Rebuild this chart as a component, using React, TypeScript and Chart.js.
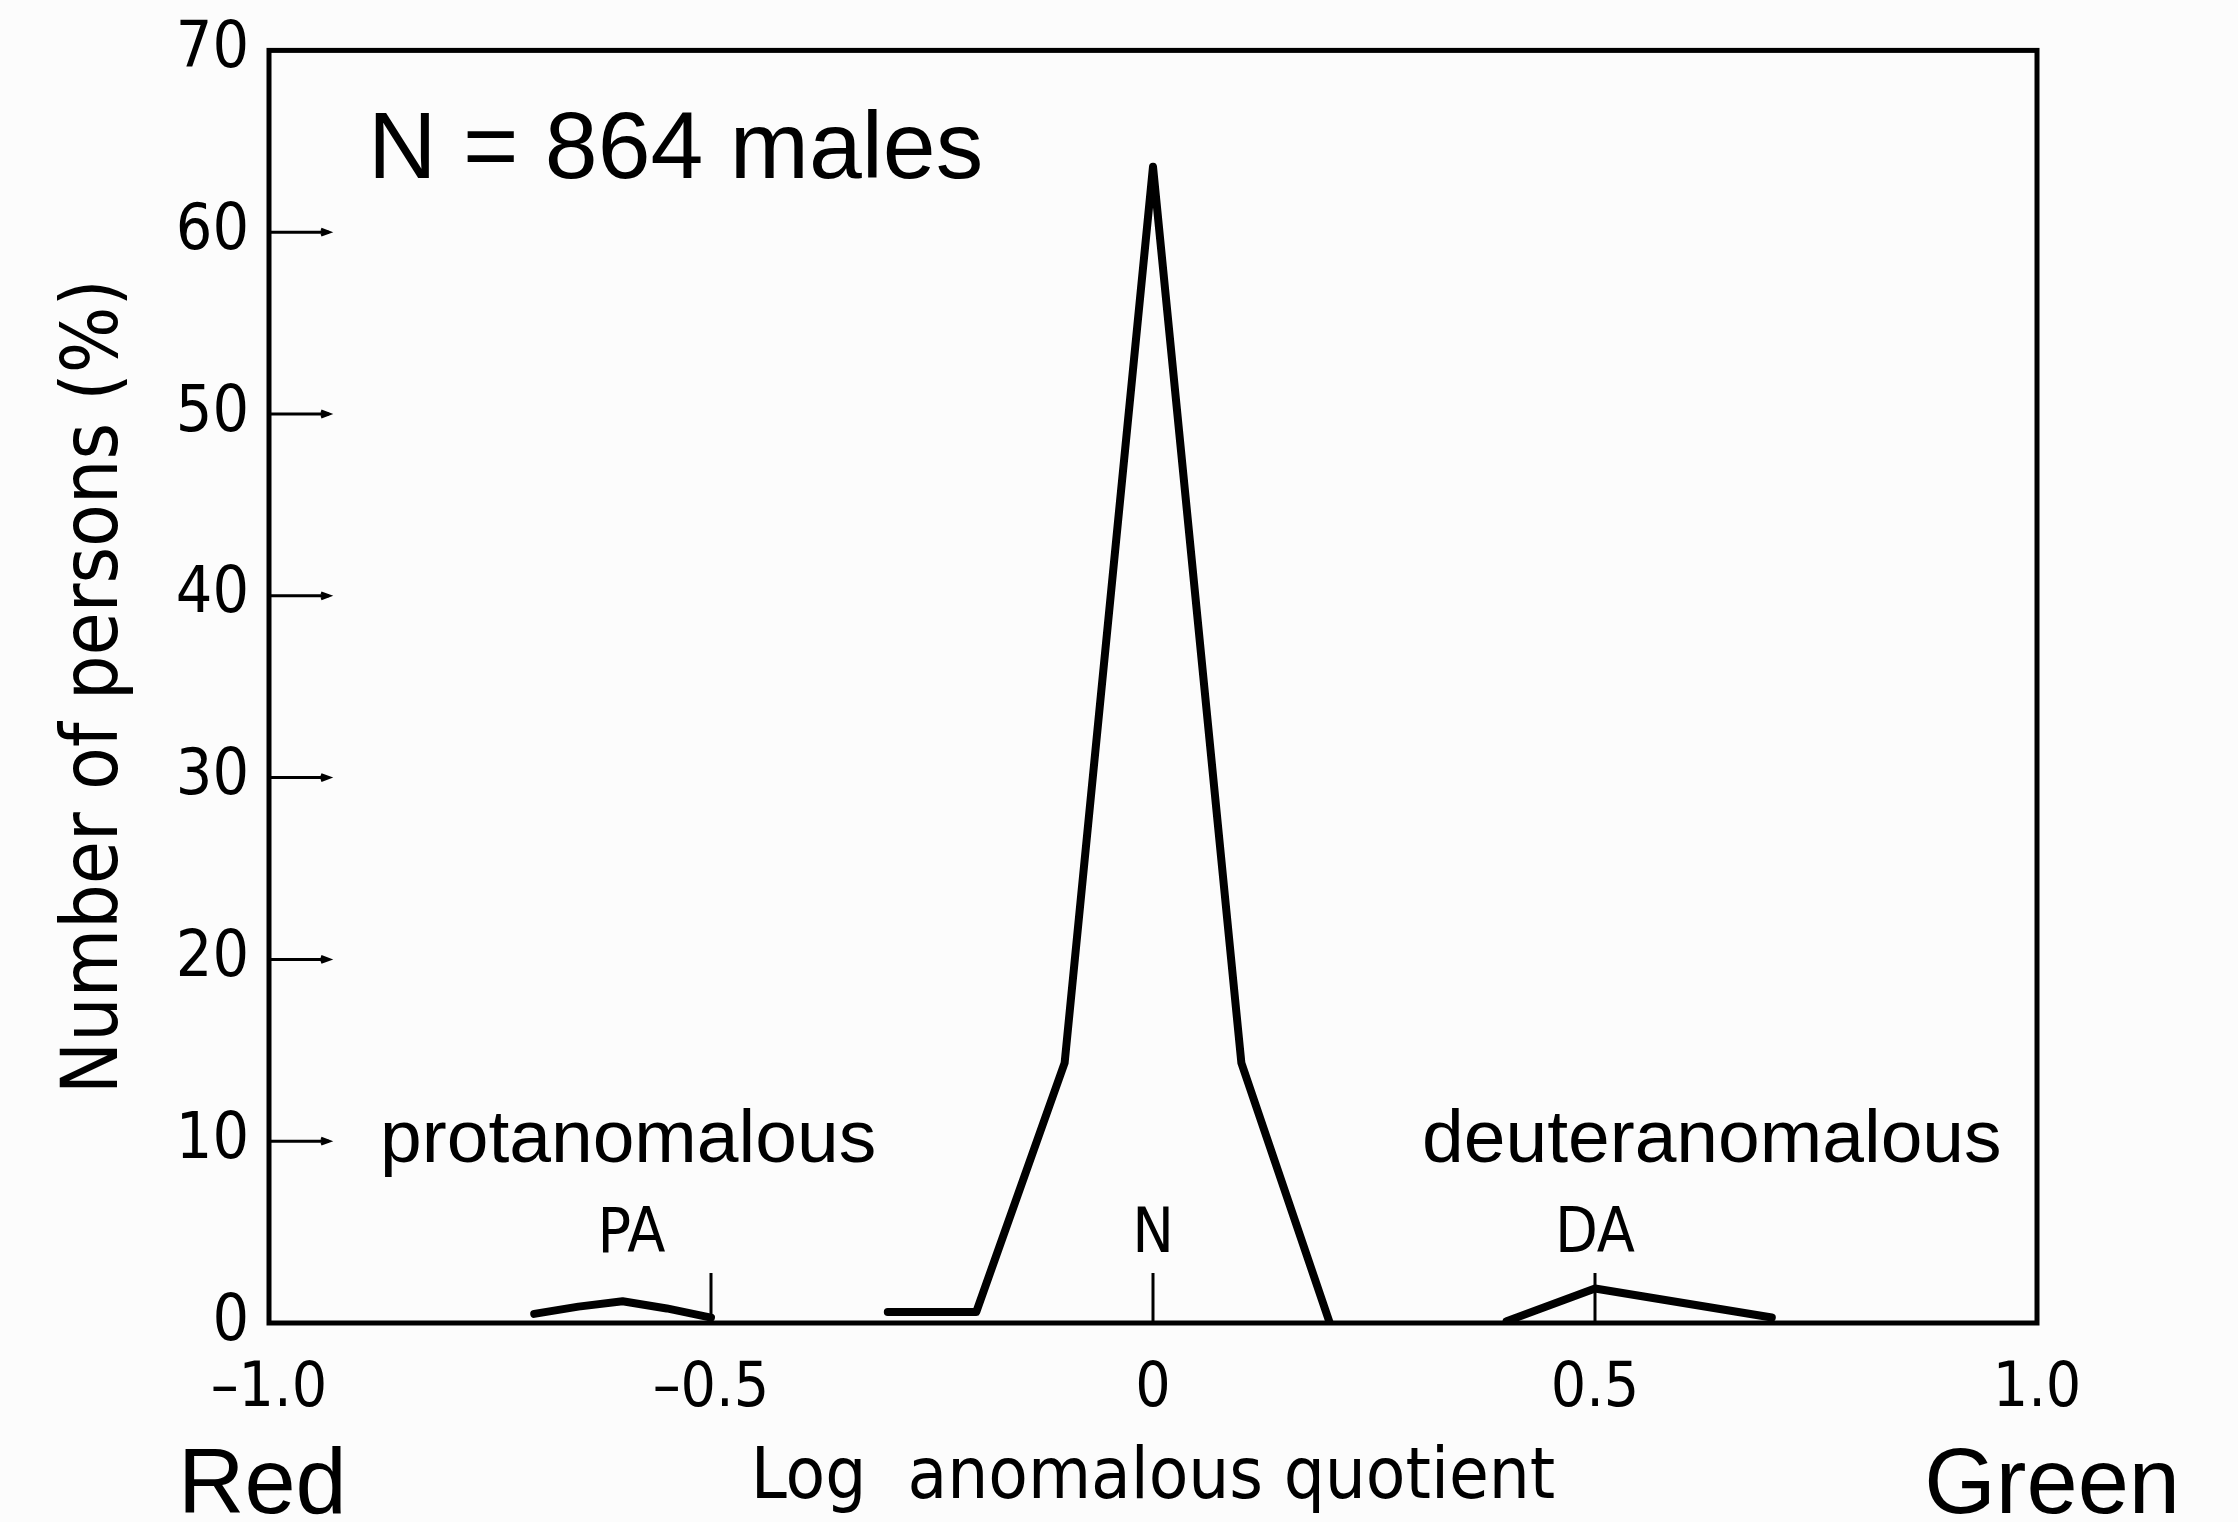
import React, { useEffect, useRef } from 'react';
import { Chart, registerables } from 'chart.js';

Chart.register(...registerables);

// ---- data ----
const xTickValues = [-1, -0.5, 0, 0.5, 1];
const xMarkerValues = [-0.5, 0, 0.5];
const normalX = [-0.3, -0.2, -0.1, 0, 0.1, 0.2];
const normalY = [0.6, 0.6, 14.3, 63.6, 14.3, 0];
const protanX = [-0.7, -0.65, -0.6, -0.55, -0.5];
const protanY = [0.5, 0.9, 1.2, 0.8, 0.3];
const deutanX = [0.4, 0.5, 0.6, 0.7];
const deutanY = [0.1, 1.9, 1.1, 0.3];
const groupLabels = ['PA', 'N', 'DA'];
const groupCenters = [-0.59, 0, 0.5];

const W = 2238;
const H = 1522;
const COND = '"DejaVu Sans Condensed", "DejaVu Sans", sans-serif';
const HELV = '"Liberation Sans", Arial, Helvetica, sans-serif';

const toPts = (xs: number[], ys: number[]) => xs.map((x, i) => ({ x, y: ys[i] }));

const fmtX = (v: number) => {
  if (v === 0) return '0';
  const s = Math.abs(v).toFixed(1);
  return v < 0 ? '\u2013' + s : s;
};

const decorPlugin = {
  id: 'decor',
  beforeDraw(chart: any) {
    const ctx = chart.ctx;
    ctx.save();
    ctx.fillStyle = '#fcfcfc';
    ctx.fillRect(0, 0, chart.width, chart.height);
    ctx.restore();
  },
  afterDatasetsDraw(chart: any) {
    const ctx = chart.ctx;
    const { left, right, top, bottom } = chart.chartArea;
    const xs = chart.scales.x;
    const ys = chart.scales.y;
    ctx.save();
    ctx.strokeStyle = '#000';
    // inward y ticks
    ctx.lineWidth = 3;
    ys.ticks.forEach((t: any) => {
      if (t.value <= ys.min || t.value >= ys.max) return;
      const py = ys.getPixelForValue(t.value);
      ctx.beginPath();
      ctx.moveTo(left, py);
      ctx.lineTo(left + 60, py);
      ctx.stroke();
      ctx.beginPath();
      ctx.moveTo(left + 52, py - 3);
      ctx.lineTo(left + 60, py);
      ctx.lineTo(left + 52, py + 3);
      ctx.stroke();
    });
    // inward x markers
    ctx.lineWidth = 3;
    xMarkerValues.forEach((v) => {
      const px = xs.getPixelForValue(v);
      ctx.beginPath();
      ctx.moveTo(px, bottom);
      ctx.lineTo(px, bottom - 50);
      ctx.stroke();
    });
    // frame
    ctx.lineWidth = 5;
    ctx.strokeRect(left, top, right - left, bottom - top);
    ctx.restore();
  },
  afterDraw(chart: any) {
    const ctx = chart.ctx;
    const xs = chart.scales.x;
    ctx.save();
    ctx.fillStyle = '#000';
    ctx.textBaseline = 'alphabetic';
    ctx.textAlign = 'left';
    ctx.font = `95px ${HELV}`;
    ctx.fillText('N = 864 males', 368, 178);
    ctx.font = `75px ${HELV}`;
    ctx.fillText('protanomalous', 380, 1162);
    ctx.fillText('deuteranomalous', 1422, 1162);
    ctx.font = `92px ${HELV}`;
    ctx.fillText('Red', 178, 1513);
    ctx.textAlign = 'right';
    ctx.fillText('Green', 2180, 1513);
    ctx.textAlign = 'center';
    ctx.font = `62px ${COND}`;
    groupLabels.forEach((lab, i) => {
      ctx.fillText(lab, xs.getPixelForValue(groupCenters[i]), 1252);
    });
    ctx.restore();
  },
};

export default function App() {
  const ref = useRef<HTMLCanvasElement | null>(null);

  useEffect(() => {
    const canvas = ref.current;
    if (!canvas) return;
    const lineStyle = {
      borderColor: '#000',
      backgroundColor: '#000',
      borderWidth: 8,
      pointRadius: 0,
      tension: 0,
      fill: false,
      borderJoinStyle: 'round' as const,
      borderCapStyle: 'round' as const,
    };
    const chart = new Chart(canvas, {
      type: 'line',
      data: {
        datasets: [
          { label: 'Protanomalous', data: toPts(protanX, protanY), ...lineStyle },
          { label: 'Normal', data: toPts(normalX, normalY), ...lineStyle },
          { label: 'Deuteranomalous', data: toPts(deutanX, deutanY), ...lineStyle },
        ],
      },
      options: {
        responsive: false,
        animation: false,
        devicePixelRatio: 1,
        layout: { padding: { left: 0, top: 48, right: W - 2037, bottom: 0 } },
        plugins: {
          legend: { display: false },
          tooltip: { enabled: false },
        },
        scales: {
          x: {
            type: 'linear',
            position: 'bottom',
            min: -1,
            max: 1,
            grid: { display: false },
            border: { display: false },
            afterBuildTicks: (s: any) => {
              s.ticks = xTickValues.map((v) => ({ value: v }));
            },
            afterFit: (s: any) => {
              s.height = H - 1323;
            },
            ticks: {
              autoSkip: false,
              maxRotation: 0,
              padding: 22,
              color: '#000',
              font: { family: COND, size: 62 },
              callback: (v: any) => fmtX(Number(v)),
            },
            title: {
              display: true,
              text: 'Log  anomalous quotient',
              color: '#000',
              font: { family: COND, size: 72, lineHeight: 1.2 },
              padding: { top: 0, bottom: 0 },
            },
          },
          y: {
            type: 'linear',
            position: 'left',
            min: 0,
            max: 70,
            grid: { display: false },
            border: { display: false },
            afterFit: (s: any) => {
              s.width = 269;
            },
            ticks: {
              stepSize: 10,
              padding: 12,
              color: '#000',
              font: { family: COND, size: 64 },
            },
            title: {
              display: true,
              text: 'Number of persons (%)',
              color: '#000',
              font: { family: COND, size: 78, lineHeight: 1.2 },
              padding: { top: 50, bottom: 0 },
            },
          },
        },
      },
      plugins: [decorPlugin],
    });
    return () => chart.destroy();
  }, []);

  return (
    <div style={{ position: 'absolute', left: 0, top: 0, width: W, height: H }}>
      <canvas ref={ref} width={W} height={H} style={{ display: 'block', width: W, height: H }} />
    </div>
  );
}
